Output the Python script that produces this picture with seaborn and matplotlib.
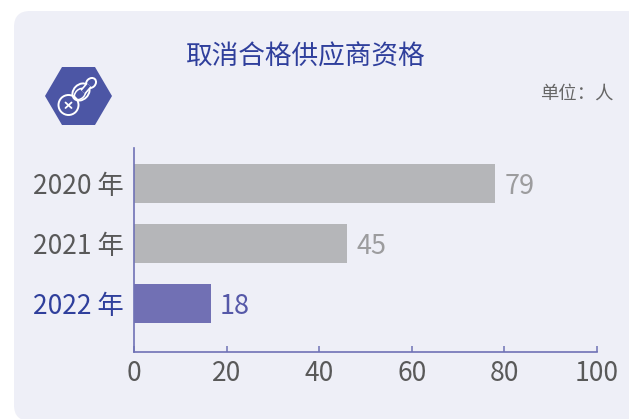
import matplotlib
matplotlib.use('Agg')
import matplotlib.pyplot as plt
import pandas as pd
import seaborn as sns
from matplotlib.patches import FancyBboxPatch, Polygon, Circle, Ellipse

years = ['2020 年', '2021 年', '2022 年']
bar_lengths = [78, 46, 16.6]
bar_labels = ['79', '45', '18']
x_ticks = [0, 20, 40, 60, 80, 100]
title = '取消合格供应商资格'
unit = '单位：人'

W, H = 629, 419
card = '#eeeff7'
blue = '#2f3f9c'
icon = '#4c56a5'
bar_colors = ['#b5b6b9', '#b5b6b9', '#7170b4']
year_colors = ['#595959', '#595959', blue]
label_colors = ['#9c9c9e', '#9c9c9e', '#5558a8']

sns.set_theme(style='white')
plt.rcParams['font.family'] = ['Noto Sans CJK SC', 'DejaVu Sans']

fig = plt.figure(figsize=(W / 100, H / 100), dpi=100, facecolor='white')

# background layer in pixel coords: card and icon
bg = fig.add_axes([0, 0, 1, 1])
bg.set_xlim(0, W)
bg.set_ylim(H, 0)
bg.axis('off')
bg.add_patch(FancyBboxPatch((30, 27), 640, 378, boxstyle='round,pad=16,rounding_size=16',
                            fc=card, ec='none'))
bg.add_patch(Polygon([(45, 96), (62, 67), (95, 67), (112, 96), (95, 125), (62, 125)],
                     fc=icon, ec='none'))
bg.add_patch(Circle((68.5, 105), 10, fc='none', ec='white', lw=1.4))
bg.plot([65.5, 71.5], [102.5, 108], color='white', lw=1.3)
bg.plot([65.5, 71.5], [108, 102.5], color='white', lw=1.3)
bg.add_patch(Ellipse((81, 92), 19, 15, angle=-45, fc='none', ec='white', lw=1.4))
bg.add_patch(Ellipse((80, 94), 13, 9, angle=-45, fc='none', ec='white', lw=1.1))
bg.plot([83, 89], [92, 85], color='white', lw=5, solid_capstyle='butt')
bg.plot([83, 89], [92, 85], color=icon, lw=2.6, solid_capstyle='butt')
bg.add_patch(Ellipse((91, 83), 11, 9, angle=-45, fc=icon, ec='white', lw=1.4))

bg.text(305.5, 57, title, color=blue, fontsize=19.2, ha='center', va='center')
bg.text(613.5, 93.5, unit, color='#666666', fontsize=13.2, ha='right', va='center')

# chart
ax = fig.add_axes([134 / W, 1 - 352 / H, (597 - 134) / W, (352 - 148) / H])
ax.patch.set_alpha(0)

df = pd.DataFrame({'year': years, 'value': bar_lengths})
sns.barplot(data=df, x='value', y='year', hue='year', palette=bar_colors, orient='h',
            width=0.65, saturation=1, legend=False, linewidth=0, ax=ax)

ax.set_xlim(0, 100)
ax.set_ylim(2.808, -0.592)
ax.set_xticks(x_ticks)
ax.set_xlabel('')
ax.set_ylabel('')
ax.tick_params(axis='x', bottom=True, direction='in', length=4, width=1.1, color='#6f72b5',
               labelsize=19, labelcolor='#595959', pad=5.5)
ax.tick_params(axis='y', length=0, labelsize=19, pad=7.5)
for lab, c in zip(ax.get_yticklabels(), year_colors):
    lab.set_color(c)

for i, (v, t, c) in enumerate(zip(bar_lengths, bar_labels, label_colors)):
    ax.annotate(t, (v, i), xytext=(6.5, -2), textcoords='offset points', color=c,
                fontsize=19.5, va='center', ha='left')

sns.despine(ax=ax)
for s in ['left', 'bottom']:
    ax.spines[s].set_color('#6f72b5')
    ax.spines[s].set_linewidth(1.2)

fig.savefig('out.png', dpi=100, facecolor='white')
